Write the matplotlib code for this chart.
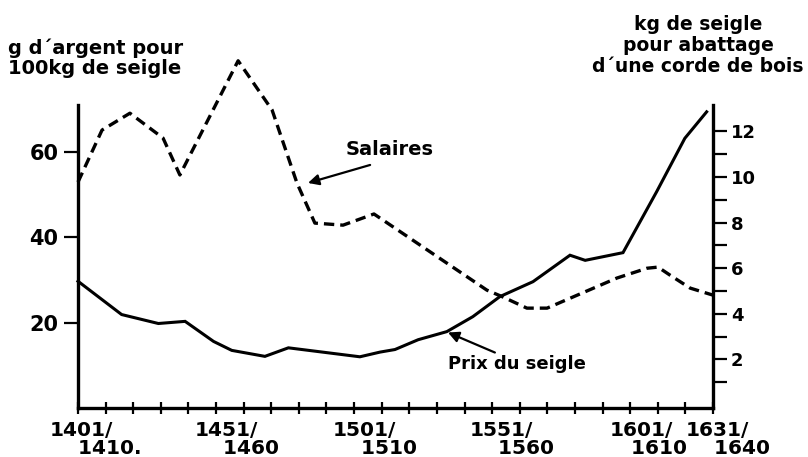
import matplotlib
matplotlib.use("Agg")
import matplotlib.pyplot as plt
from matplotlib.ticker import FixedLocator, NullFormatter
import matplotlib.transforms as mtransforms

# ---- data ----
prix_years = [1401, 1416.8, 1430.1, 1439.8, 1450.1, 1456.7, 1468.7, 1477.2,
              1503.1, 1510.4, 1515.8, 1524.2, 1534.6, 1544.0, 1553.8, 1565.8,
              1579.2, 1584.7, 1598.4, 1610.6, 1620.8, 1628.7]
prix_values = [29.7, 21.9, 19.8, 20.3, 15.6, 13.5, 12.1, 14.1,
               12.0, 13.1, 13.7, 16.0, 17.9, 21.4, 26.1, 29.6,
               35.8, 34.6, 36.4, 50.7, 63.2, 69.4]

salaires_years = [1401, 1409.7, 1419.8, 1431.8, 1437.9, 1459.0, 1471.3, 1480.3,
                  1486.8, 1497.0, 1508.2, 1549.1, 1554.9, 1563.6, 1570.9, 1580.3,
                  1596.2, 1607.1, 1611.1, 1615.4, 1622.7, 1631]
salaires_values = [9.78, 12.06, 12.8, 11.71, 10.09, 15.1, 12.94, 9.74,
                   7.98, 7.89, 8.38, 5.04, 4.74, 4.25, 4.25, 4.74,
                   5.57, 6.0, 6.05, 5.7, 5.13, 4.82]

decade_ticks = list(range(1401, 1632, 10))
label_years = [1401, 1451, 1501, 1551, 1601, 1631]
label_top = ["1401/", "1451/", "1501/", "1551/", "1601/", "1631/"]
label_bottom = ["1410.", "1460", "1510", "1560", "1610", "1640"]
left_ticks = [20, 40, 60]
right_major = [2, 4, 6, 8, 10, 12]
right_minor = [1, 3, 5, 7, 9, 11]

# ---- style ----
plt.rcParams["font.family"] = ["DejaVu Sans"]
plt.rcParams["font.weight"] = "bold"
# pixel offset of each two-line x label's left edge from its tick, and indent of line 2
label_dx = [-28, -21, -21, -22, -20, -27]
label_indent = [4, 4, 4, 4, 3, 4]

fig = plt.figure(figsize=(8.08, 4.57), dpi=100)
ax = fig.add_axes([78 / 808, 1 - 408 / 457, 635 / 808, 303 / 457])
ax2 = ax.twinx()

ax.set_xlim(1401, 1631)
ax.set_ylim(0, 71.0)
ax2.set_ylim(-0.13, 13.16)

ax.plot(prix_years, prix_values, color="black", lw=2.2, clip_on=False,
        solid_joinstyle="miter")
ax2.plot(salaires_years, salaires_values, color="black", lw=2.4,
         linestyle=(0, (3.1, 1.8)), clip_on=False)

ax.spines["top"].set_visible(False)
ax2.spines["top"].set_visible(False)
ax2.spines["left"].set_visible(False)
ax2.spines["bottom"].set_visible(False)
ax.spines["right"].set_visible(False)
for sp in (ax.spines["left"], ax.spines["bottom"], ax2.spines["right"]):
    sp.set_linewidth(2.4)

# left ticks
ax.yaxis.set_major_locator(FixedLocator(left_ticks))
ax.set_yticklabels([str(v) for v in left_ticks])
ax.tick_params(axis="y", direction="out", length=10, width=1.6,
               labelsize=15, pad=4)
for t in ax.get_yticklabels():
    t.set_fontweight("bold")

# right ticks
ax2.yaxis.set_major_locator(FixedLocator(right_major))
ax2.yaxis.set_minor_locator(FixedLocator(right_minor))
ax2.set_yticklabels([str(v) for v in right_major])
ax2.yaxis.set_minor_formatter(NullFormatter())
ax2.tick_params(axis="y", which="major", direction="out", length=10,
                width=1.6, labelsize=13, pad=3)
ax2.tick_params(axis="y", which="minor", direction="out", length=10,
                width=1.6)
for t in ax2.get_yticklabels():
    t.set_fontweight("bold")

# x ticks
ax.xaxis.set_major_locator(FixedLocator(decade_ticks))
ax.xaxis.set_major_formatter(NullFormatter())
ax.tick_params(axis="x", direction="inout", length=8, width=1.6)

trans = mtransforms.blended_transform_factory(ax.transData, ax.transAxes)
for yr, t1, t2, dx, ind in zip(label_years, label_top, label_bottom,
                               label_dx, label_indent):
    ax.annotate(t1 + "\n" + " " * ind + t2, xy=(yr, 0), xycoords=trans,
                xytext=(dx * 0.72, -13 * 0.72), textcoords="offset points",
                ha="left", va="top", multialignment="left",
                fontsize=14.5, fontweight="bold", linespacing=0.95)

# axis titles
fig.text(8 / 808, 1 - 38 / 457, "g d\u00b4argent pour\n100kg de seigle",
         ha="left", va="top", fontsize=14, fontweight="bold", linespacing=1.1)
fig.text(698 / 808, 1 - 15 / 457, "kg de seigle\npour abattage\nd\u00b4une corde de bois",
         ha="center", va="top", fontsize=13.5, fontweight="bold", linespacing=1.15)

# series labels with arrows
ax2.text(1514, 11.2, "Salaires", ha="center", va="center",
         fontsize=14, fontweight="bold")
ax2.annotate("", xy=(1484.3, 9.74), xytext=(1506.8, 10.53),
             arrowprops=dict(arrowstyle="-|>", color="black", lw=1.6,
                             mutation_scale=16, shrinkA=0, shrinkB=0))
ax.text(1560, 10.4, "Prix du seigle", ha="center", va="center",
        fontsize=13, fontweight="bold")
ax.annotate("", xy=(1535, 17.7), xytext=(1552, 13.0),
            arrowprops=dict(arrowstyle="-|>", color="black", lw=1.6,
                            mutation_scale=16, shrinkA=0, shrinkB=0))

fig.savefig("out.png", dpi=100, facecolor="white")
